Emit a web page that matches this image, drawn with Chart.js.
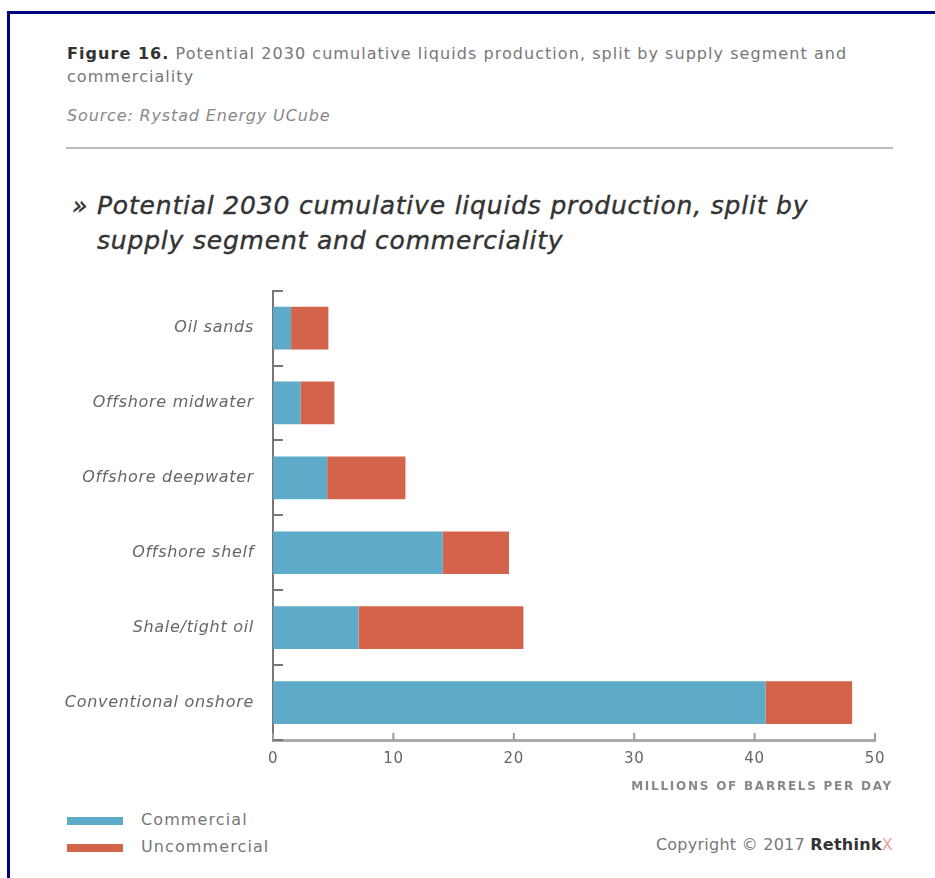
<!DOCTYPE html>
<html>
<head>
<meta charset="utf-8">
<script src="https://cdn.jsdelivr.net/npm/chart.js@4.4.0/dist/chart.umd.min.js"></script>
<style>
    html, body { margin: 0; padding: 0; background: #fff; }
    body { width: 935px; height: 878px; position: relative; overflow: hidden; font-family: "DejaVu Sans", sans-serif; }
    .frame { position: absolute; left: 7px; top: 11px; right: -10px; bottom: -10px; border-top: 3px solid #00007f; border-left: 3px solid #00007f; }
    .txt { position: absolute; white-space: nowrap; }
    .fig { left: 67px; top: 42px; font-size: 16px; color: #777; line-height: 23px; letter-spacing: 1.05px; }
    .fig b { color: #333; }
    .src { left: 67px; top: 106px; font-size: 16px; color: #888; font-style: italic; letter-spacing: 0.85px; }
    .rule { position: absolute; left: 66px; top: 147px; width: 827px; height: 2px; background: #bbb; }
    .title { left: 72px; top: 188px; font-size: 25px; font-style: italic; color: #333; line-height: 35px; letter-spacing: 0.8px; -webkit-text-stroke: 0.4px #333; }
    .title span { padding-left: 25px; }
    .axis-title { right: 42px; top: 779px; font-size: 12px; font-weight: bold; color: #888; letter-spacing: 1.75px; }
    .legend { left: 67px; font-size: 16px; color: #777; letter-spacing: 1.1px; }
    .legend i { display: inline-block; width: 56px; height: 8px; margin-right: 18px; vertical-align: middle; }
    .copy { right: 42px; top: 835px; font-size: 16px; color: #777; letter-spacing: 0.25px; }
    .copy b { color: #333; }
    .copy span { color: #e9a0a0; }
    #wrap { position: absolute; left: 0; top: 270px; width: 935px; height: 530px; }
</style>
</head>
<body>
<div class="frame"></div>
<div class="txt fig"><b>Figure 16.</b> Potential 2030 cumulative liquids production, split by supply segment and<br>commerciality</div>
<div class="txt src">Source: Rystad Energy UCube</div>
<div class="rule"></div>
<div class="txt title">» Potential 2030 cumulative liquids production, split by<br><span>supply segment and commerciality</span></div>
<div id="wrap"><canvas id="chart"></canvas></div>
<div class="txt axis-title">MILLIONS OF BARRELS PER DAY</div>
<div class="txt legend" style="top: 810px;"><i style="background:#5eaac9"></i>Commercial</div>
<div class="txt legend" style="top: 837px;"><i style="background:#d4634c"></i>Uncommercial</div>
<div class="txt copy">Copyright © 2017 <b>Rethink</b><span>X</span></div>
<script>
    const segments = ['Oil sands', 'Offshore midwater', 'Offshore deepwater', 'Offshore shelf', 'Shale/tight oil', 'Conventional onshore'];
    const commercial = [1.5, 2.3, 4.5, 14.1, 7.1, 40.9];
    const uncommercial = [3.1, 2.8, 6.5, 5.5, 13.7, 7.2];
    const xTicks = [0, 10, 20, 30, 40, 50];

    // slightly spaced lettering for the axis labels
    const spacedText = {
        id: 'spacedText',
        beforeDraw(chart) { chart.ctx.letterSpacing = '0.7px'; },
        afterDraw(chart) { chart.ctx.letterSpacing = '0px'; },
    };

    // small inward ticks on both axes
    const innerTicks = {
        id: 'innerTicks',
        afterDatasetsDraw(chart) {
            const ctx = chart.ctx;
            const area = chart.chartArea;
            const y = chart.scales.y;
            const x = chart.scales.x;
            const n = segments.length;
            ctx.save();
            ctx.strokeStyle = '#777';
            ctx.lineWidth = 2;
            for (let i = 0; i <= n; i++) {
                const py = Math.round(y.top + i * (y.bottom - y.top) / n);
                ctx.beginPath();
                ctx.moveTo(area.left, py);
                ctx.lineTo(area.left + 10, py);
                ctx.stroke();
            }
            ctx.strokeStyle = '#999';
            xTicks.forEach(v => {
                const px = x.getPixelForValue(v);
                ctx.beginPath();
                ctx.moveTo(px, area.bottom);
                ctx.lineTo(px, area.bottom - 7);
                ctx.stroke();
            });
            ctx.restore();
        }
    };

    new Chart(document.getElementById('chart'), {
        type: 'bar',
        data: {
            labels: segments,
            datasets: [
                { label: 'Commercial', data: commercial, backgroundColor: '#5eaac9', borderWidth: 0 },
                { label: 'Uncommercial', data: uncommercial, backgroundColor: '#d4634c', borderWidth: 0 },
            ],
        },
        options: {
            indexAxis: 'y',
            responsive: true,
            maintainAspectRatio: false,
            animation: false,
            layout: { padding: { left: 0, right: 60, top: 15, bottom: 0 } },
            plugins: { legend: { display: false }, tooltip: { enabled: false } },
            datasets: { bar: { barPercentage: 0.57, categoryPercentage: 1 } },
            scales: {
                x: {
                    stacked: true,
                    min: 0,
                    max: 50,
                    afterBuildTicks: (s) => { s.ticks = xTicks.map(v => ({ value: v })); },
                    grid: { display: false },
                    border: { display: true, color: '#aaa', width: 3 },
                    ticks: { font: { family: 'DejaVu Sans', size: 15 }, color: '#666', padding: 2 },
                    afterFit: (s) => { s.height = 60; },
                },
                y: {
                    stacked: true,
                    grid: { display: false },
                    border: { display: true, color: '#777', width: 2 },
                    ticks: { font: { family: 'DejaVu Sans', size: 16, style: 'italic' }, color: '#666', padding: 11 },
                    afterFit: (s) => { s.width = 273; },
                },
            },
        },
        plugins: [spacedText, innerTicks],
    });
</script>
</body>
</html>
